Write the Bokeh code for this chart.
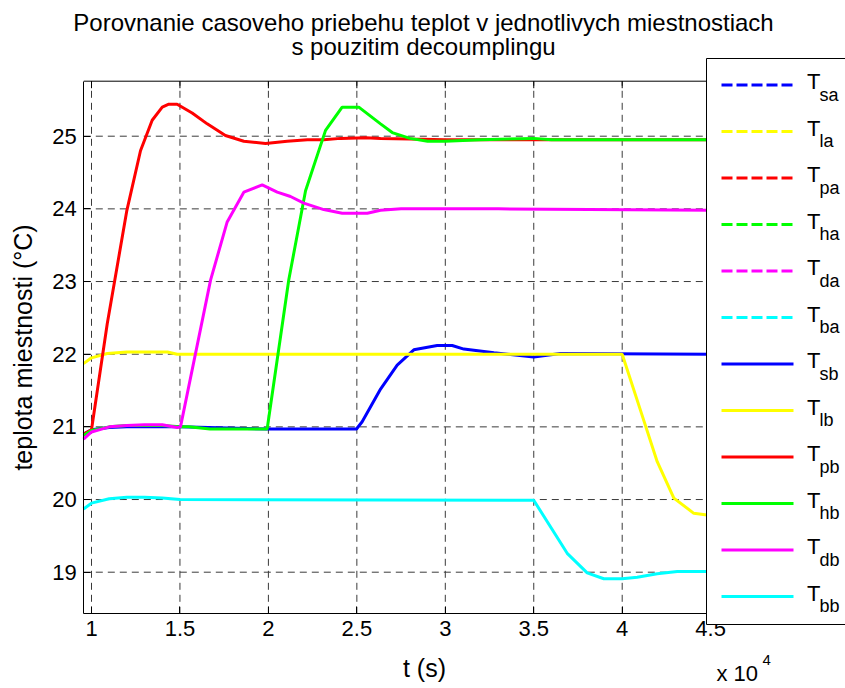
from bokeh.plotting import figure
from bokeh.models import Range1d, FixedTicker
from bokeh.core.properties import value
from bokeh.embed import file_html
from bokeh.resources import INLINE

# ---------------- data (time in s, temperature in degC) ----------------
t_sb = [9550, 10000, 11000, 12000, 15000, 20000, 24980, 25300, 26340, 27280, 28220,
        29540, 30390, 31050, 32750, 35000, 36510, 45000]
T_sb = [20.90, 20.96, 20.99, 21.00, 21.00, 20.97, 20.97, 21.07, 21.52, 21.85, 22.06,
        22.12, 22.12, 22.07, 22.02, 21.96, 22.01, 22.00]

t_lb = [9550, 10000, 10890, 12000, 14300, 14840, 15500, 40000, 41030, 41980, 42920, 44050, 45000]
T_lb = [21.87, 21.95, 22.01, 22.03, 22.03, 22.00, 22.00, 22.00, 21.23, 20.52, 20.02, 19.81, 19.78]

t_pb = [9550, 10000, 10890, 12000, 12770, 13430, 14000, 14370, 14840, 15690, 16540, 17570,
        18610, 19840, 21060, 22200, 23130, 24080, 25500, 26340, 28000, 30000, 35000, 45000]
T_pb = [20.90, 20.96, 22.42, 23.98, 24.80, 25.22, 25.40, 25.44, 25.44, 25.32, 25.17, 25.01,
        24.93, 24.90, 24.93, 24.95, 24.95, 24.97, 24.98, 24.97, 24.96, 24.95, 24.95, 24.95]

t_hb = [9550, 10000, 11000, 12000, 14000, 15000, 15500, 16700, 19930, 21150, 22100, 23230,
        24170, 25110, 26340, 27000, 28000, 29000, 30000, 32000, 35000, 36000, 45000]
T_hb = [20.88, 20.95, 21.00, 21.02, 21.02, 21.00, 21.00, 20.97, 20.97, 23.02, 24.25, 25.08,
        25.40, 25.40, 25.17, 25.05, 24.97, 24.93, 24.93, 24.95, 24.97, 24.95, 24.95]

t_db = [9550, 10000, 11000, 12000, 13000, 14000, 14840, 15030, 16730, 17670, 18610, 19650,
        20500, 21250, 22000, 23130, 24170, 25590, 26340, 27500, 30000, 33000, 45000]
T_db = [20.83, 20.93, 21.00, 21.02, 21.03, 21.03, 20.99, 21.00, 23.02, 23.82, 24.23, 24.33,
        24.23, 24.17, 24.08, 23.99, 23.94, 23.94, 23.98, 24.00, 24.00, 24.00, 23.98]

t_bb = [9550, 10000, 11000, 12000, 13000, 14000, 15000, 35000, 36890, 38020, 38960, 40000,
        40850, 41980, 43110, 45000]
T_bb = [19.87, 19.95, 20.01, 20.03, 20.03, 20.02, 20.00, 19.99, 19.26, 18.99, 18.91, 18.91,
        18.93, 18.98, 19.01, 19.01]

# legend order: dashed "a" series (they lie exactly under the solid "b" series), then "b"
names_a = ["sa", "la", "pa", "ha", "da", "ba"]
names_b = ["sb", "lb", "pb", "hb", "db", "bb"]
series_b = [(t_sb, T_sb), (t_lb, T_lb), (t_pb, T_pb), (t_hb, T_hb), (t_db, T_db), (t_bb, T_bb)]
colors = ["#0000FF", "#FFFF00", "#FF0000", "#00FF00", "#FF00FF", "#00FFFF"]

x_ticks = [10000, 15000, 20000, 25000, 30000, 35000, 40000, 45000]
x_tick_labels = ["1", "1.5", "2", "2.5", "3", "3.5", "4", "4.5"]
y_ticks = [19, 20, 21, 22, 23, 24, 25]

title_lines = ["Porovnanie casoveho priebehu teplot v jednotlivych miestnostiach",
               "s pouzitim decoumplingu"]
x_label = "t (s)"
y_label = "teplota miestnosti (°C)"
x_mult = ("x 10", "4")

# ---------------- layout (pixel calibration of the axes) ----------------
W, H = 845, 688
X_CAL = ((10000, 91.0), (40000, 621.7))
Y_CAL = ((19, 571.7), (25, 135.7))
FONT = "Liberation Sans"
BL = 6   # baseline correction of text glyphs (px)


def x_of(px):
    (a, pa), (b, pb) = X_CAL
    return a + (px - pa) * (b - a) / (pb - pa)


def y_of(py):
    (a, pa), (b, pb) = Y_CAL
    return a + (py - pa) * (b - a) / (pb - pa)


XLIM = (x_of(83.3), x_of(765))
YLIM = (y_of(613.3), y_of(80.7))

p = figure(width=W, height=H, output_backend="svg", toolbar_location=None,
           x_range=Range1d(x_of(0), x_of(W)), y_range=Range1d(y_of(H), y_of(0)),
           min_border_left=0, min_border_right=0, min_border_top=0, min_border_bottom=0)
p.outline_line_color = None
p.background_fill_color = "white"
p.border_fill_color = "white"
p.xgrid.visible = False
p.ygrid.visible = False

# axes drawn at the MATLAB axes box position
p.xaxis.fixed_location = YLIM[0]
p.yaxis.fixed_location = XLIM[0]
p.xaxis.bounds = XLIM
p.yaxis.bounds = YLIM
p.xaxis.ticker = FixedTicker(ticks=x_ticks)
p.xaxis.major_label_overrides = {t: l for t, l in zip(x_ticks, x_tick_labels)}
p.yaxis.ticker = FixedTicker(ticks=y_ticks)
for ax in (p.xaxis[0], p.yaxis[0]):
    ax.major_tick_in = 7
    ax.major_tick_out = 0
    ax.minor_tick_line_color = None
    ax.major_label_standoff = 7
    ax.major_label_text_font = FONT
    ax.major_label_text_font_size = "22px"
    ax.major_label_text_color = "black"
    ax.axis_label_text_font = FONT
    ax.axis_label_text_font_size = "25px"
    ax.axis_label_text_font_style = "normal"
    ax.axis_label_text_color = "black"
    ax.axis_line_color = "black"
    ax.major_tick_line_color = "black"
p.xaxis.axis_label = x_label
p.yaxis.axis_label = y_label
p.xaxis.axis_label_standoff = 15
p.yaxis.axis_label_standoff = 12

# dashed grid inside the axes box
p.segment(x0=x_ticks, y0=[YLIM[0]] * len(x_ticks), x1=x_ticks, y1=[YLIM[1]] * len(x_ticks),
          line_color="#3a3a3a", line_width=1, line_dash="7 5")
p.segment(x0=[XLIM[0]] * len(y_ticks), y0=y_ticks, x1=[XLIM[1]] * len(y_ticks), y1=y_ticks,
          line_color="#3a3a3a", line_width=1, line_dash="7 5")

# data lines
for (t, v), c in zip(series_b, colors):
    p.line(t, v, line_color=c, line_width=3)

# top edge of the box with inward ticks
p.segment(x0=[XLIM[0]], y0=[YLIM[1]], x1=[XLIM[1]], y1=[YLIM[1]], line_color="black", line_width=1)
tick_len = y_of(80.7) - y_of(87.7)
p.segment(x0=x_ticks, y0=[YLIM[1]] * len(x_ticks), x1=x_ticks,
          y1=[YLIM[1] - tick_len] * len(x_ticks), line_color="black", line_width=1)

# title
for i, s in enumerate(title_lines):
    p.text(x=[x_of(423)], y=[y_of(28 + 23.5 * i - BL)], text=[s], text_align="center",
           text_baseline="alphabetic", text_font=value(FONT), text_font_size="24px",
           text_color="black")

# x 10^4 multiplier
p.text(x=[x_of(716)], y=[y_of(679 - BL)], text=[x_mult[0]], text_baseline="alphabetic",
       text_font=value(FONT), text_font_size="22px", text_color="black")
p.text(x=[x_of(762)], y=[y_of(665 - BL)], text=[x_mult[1]], text_baseline="alphabetic",
       text_font=value(FONT), text_font_size="15px", text_color="black")

# legend
r = p.quad(left=[x_of(706)], right=[x_of(W + 20)], top=[y_of(58)], bottom=[y_of(624)],
           fill_color="white", fill_alpha=1.0, line_color="black", line_width=1)
r.level = "overlay"
entries = [(n, c, "11 4") for n, c in zip(names_a, colors)] + \
          [(n, c, "solid") for n, c in zip(names_b, colors)]
for i, (name, c, dash) in enumerate(entries):
    ey = 84.5 + 46.5 * i
    rs = [p.segment(x0=[x_of(721)], y0=[y_of(ey)], x1=[x_of(793)], y1=[y_of(ey)],
                    line_color=c, line_width=3, line_dash=dash),
          p.text(x=[x_of(806.5)], y=[y_of(ey + 2.5 - BL)], text=["T"], text_baseline="alphabetic",
                 text_font=value(FONT), text_font_size="22px", text_color="black"),
          p.text(x=[x_of(819)], y=[y_of(ey + 15.5 - BL)], text=[name], text_baseline="alphabetic",
                 text_font=value(FONT), text_font_size="18px", text_color="black")]
    for rr in rs:
        rr.level = "overlay"

open("out.html", "w").write(file_html(p, INLINE))
